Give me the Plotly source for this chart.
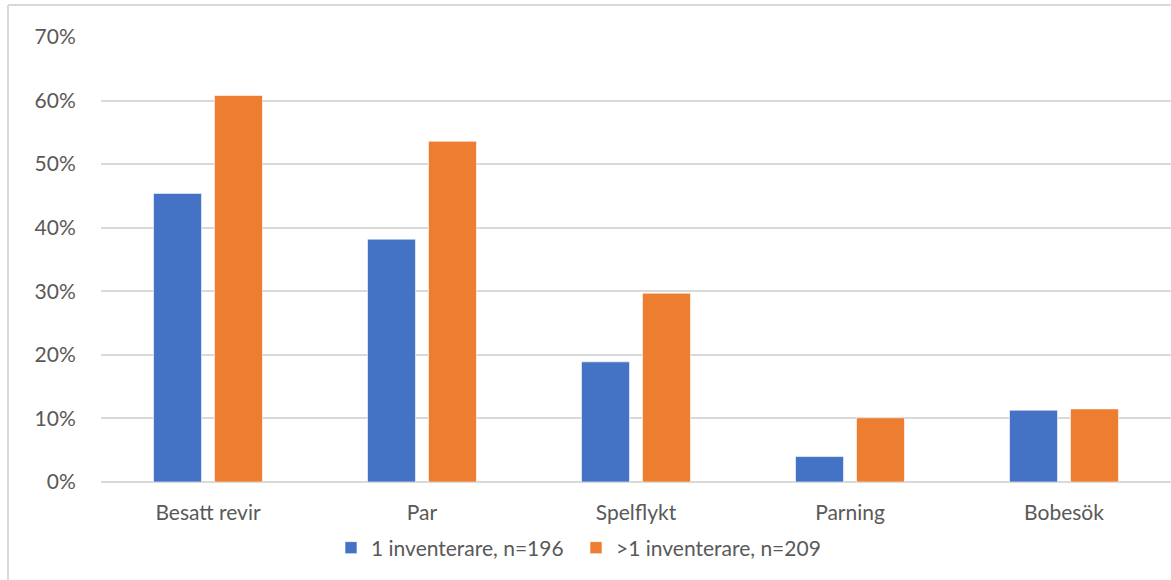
import plotly.graph_objects as go

# Andel lokaler per observationstyp, uppdelat på antal inventerare
kategorier = ["Besatt revir", "Par", "Spelflykt", "Parning", "Bobesök"]
en_inventerare = [0.454, 0.382, 0.189, 0.040, 0.113]
fler_inventerare = [0.608, 0.536, 0.297, 0.101, 0.115]
serie_namn = ["1 inventerare, n=196", ">1 inventerare, n=209"]
y_ticks = [0, 0.1, 0.2, 0.3, 0.4, 0.5, 0.6, 0.7]

BLA = "#4472C4"
ORANGE = "#ED7D31"
TEXT = "#595959"
GRID = "#D9D9D9"
FONT = "Lato"
FS = 21

fig = go.Figure()
fig.add_trace(go.Bar(x=kategorier, y=en_inventerare, name=serie_namn[0],
                     marker=dict(color=BLA, line=dict(color="white", width=0.6))))
fig.add_trace(go.Bar(x=kategorier, y=fler_inventerare, name=serie_namn[1],
                     marker=dict(color=ORANGE, line=dict(color="white", width=0.6))))

W, H = 1171, 580
ml, mr, mt, mb = 101, 0, 37, 98
pw, ph = W - ml - mr, H - mt - mb


def px_x(px):
    return (px - ml) / pw


def px_y(py):
    return (H - mb - py) / ph


fig.update_layout(
    width=W, height=H,
    margin=dict(l=ml, r=mr, t=mt, b=mb),
    paper_bgcolor="white", plot_bgcolor="white",
    barmode="group", bargap=0.43, bargroupgap=0.213,
    font=dict(family=FONT, size=FS, color=TEXT),
    showlegend=True,
    legend=dict(orientation="h", x=px_x(576), xanchor="center",
                y=px_y(548), yanchor="middle",
                font=dict(family=FONT, size=FS, color=TEXT),
                itemwidth=30, tracegroupgap=0, entrywidth=200,
                bgcolor="rgba(0,0,0,0)"),
    xaxis=dict(showgrid=False, showline=False, zeroline=False,
               ticks="outside", ticklen=12, tickcolor="rgba(0,0,0,0)",
               tickfont=dict(family=FONT, size=FS, color=TEXT)),
    yaxis=dict(range=[0, 0.7], tickvals=y_ticks, tickformat=".0%",
               showgrid=True, gridcolor=GRID, gridwidth=1.5,
               zeroline=True, zerolinecolor=GRID, zerolinewidth=1.5,
               showline=False,
               ticks="outside", ticklen=20, tickcolor="rgba(0,0,0,0)",
               tickfont=dict(family=FONT, size=FS, color=TEXT)),
    shapes=[
        dict(type="line", xref="paper", yref="paper",
             x0=px_x(8), x1=px_x(8), y0=px_y(5), y1=px_y(600),
             line=dict(color=GRID, width=2)),
        dict(type="line", xref="paper", yref="paper",
             x0=px_x(8), x1=px_x(1200), y0=px_y(5), y1=px_y(5),
             line=dict(color=GRID, width=2)),
    ],
)

fig.write_html("out.html")
